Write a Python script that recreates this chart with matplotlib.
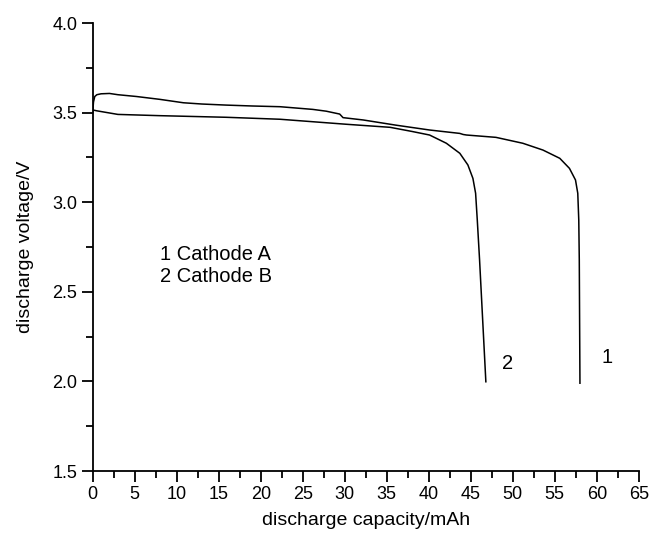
import matplotlib
matplotlib.use('Agg')
import matplotlib.pyplot as plt
from matplotlib.ticker import MultipleLocator

# curve 1 - Cathode A
cap_a = [0.0, 0.1, 0.25, 0.5, 1.0, 2.0, 3.0, 5.2, 8.0, 10.8, 13.0, 15.9, 19.0,
         22.3, 26.2, 27.8, 29.4, 29.8, 32.2, 36.1, 40.1, 43.7, 44.1, 44.5, 48.0,
         51.2, 53.6, 55.6, 56.75, 57.47, 57.74, 57.86, 57.92, 58.0]
volt_a = [3.50, 3.56, 3.59, 3.60, 3.605, 3.607, 3.60, 3.59, 3.574, 3.555, 3.548,
          3.542, 3.537, 3.533, 3.518, 3.508, 3.492, 3.472, 3.459, 3.43, 3.403,
          3.384, 3.378, 3.375, 3.362, 3.329, 3.291, 3.245, 3.189, 3.124, 3.05,
          2.90, 2.68, 1.99]

# curve 2 - Cathode B
cap_b = [0.0, 0.5, 3.0, 8.0, 15.9, 22.3, 30.2, 35.4, 38.0, 40.1, 42.1, 43.7,
         44.66, 45.26, 45.58, 45.78, 46.05, 46.8]
volt_b = [3.515, 3.51, 3.49, 3.483, 3.474, 3.463, 3.435, 3.418, 3.395, 3.375,
          3.329, 3.273, 3.208, 3.133, 3.05, 2.90, 2.68, 1.998]

plt.rcParams['font.family'] = ['Liberation Sans', 'DejaVu Sans']

fig = plt.figure(figsize=(6.54, 5.33), dpi=100)
ax = fig.add_axes([0.1417, 0.1163, 0.835, 0.8405])

ax.plot(cap_a, volt_a, color='black', lw=1.1)
ax.plot(cap_b, volt_b, color='black', lw=1.1)

ax.set_xlim(0, 65)
ax.set_ylim(1.5, 4.0)
ax.xaxis.set_major_locator(MultipleLocator(5))
ax.xaxis.set_minor_locator(MultipleLocator(2.5))
ax.yaxis.set_major_locator(MultipleLocator(0.5))
ax.yaxis.set_minor_locator(MultipleLocator(0.25))
ax.yaxis.set_major_formatter(plt.FormatStrFormatter('%.1f'))

for s in ['top', 'right']:
    ax.spines[s].set_visible(False)
for s in ['left', 'bottom']:
    ax.spines[s].set_linewidth(1.3)
ax.tick_params(which='major', direction='out', length=8, width=1.3,
               labelsize=13, pad=3)
ax.tick_params(which='minor', direction='out', length=5, width=1.3)

ax.set_xlabel('discharge capacity/mAh', fontsize=14, labelpad=6)
ax.set_ylabel('discharge voltage/V', fontsize=14, labelpad=13)

ax.text(8, 2.645, '1 Cathode A\n2 Cathode B', fontsize=14.5, linespacing=1.2,
        va='center', ha='left')
ax.text(49.4, 2.10, '2', fontsize=14.5, ha='center', va='center')
ax.text(61.2, 2.135, '1', fontsize=14.5, ha='center', va='center')

fig.savefig('out.png', dpi=100)
